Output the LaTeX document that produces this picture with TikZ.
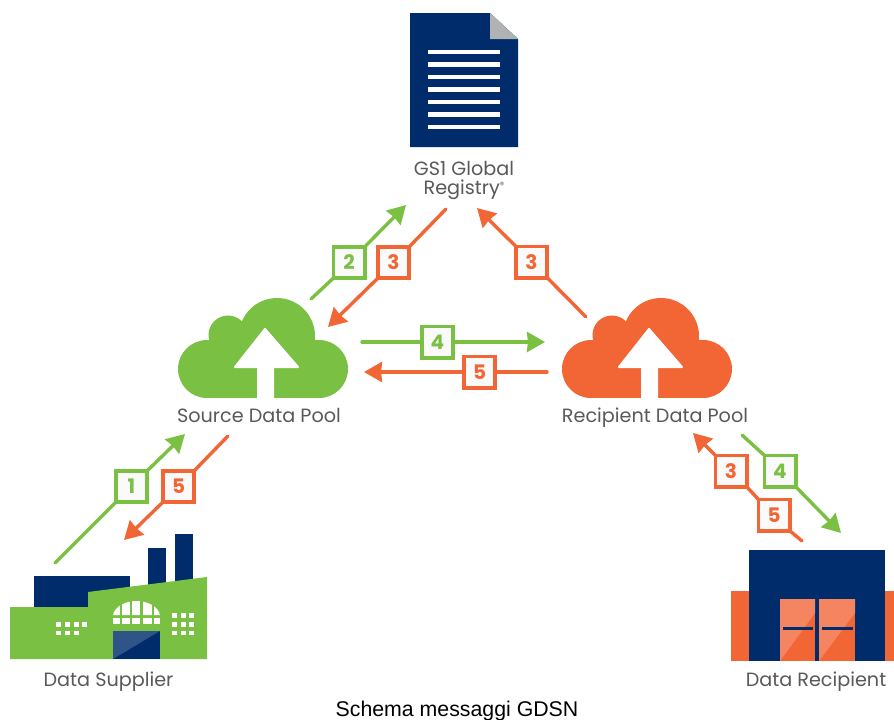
\documentclass[tikz,border=0pt]{standalone}
\usepackage{fontspec}
\usetikzlibrary{arrows.meta}
\setmainfont{Poppins}
\newfontfamily\capfont{Liberation Sans}
\definecolor{gsgreen}{HTML}{7AC143}
\definecolor{gsorange}{HTML}{F26534}
\definecolor{gsnavy}{HTML}{002C6C}
\definecolor{gslight}{HTML}{F58460}
\definecolor{gsdoor}{HTML}{2F5488}
\definecolor{gsgrey}{HTML}{B1B3B3}
\definecolor{gstext}{HTML}{58595B}
\tikzset{
  label text/.style={text=gstext,font=\fontsize{19.2}{19}\selectfont,inner sep=0pt,align=center},
  numbox/.style={draw=#1,text=#1,fill=black!2,line width=3.8pt,minimum size=31.2pt,inner sep=0pt,outer sep=0pt,font=\fontsize{20}{20}\selectfont\bfseries},
  link/.style={draw=#1,line width=3.4pt,line cap=round},
  arrowlink/.style={draw=#1,line width=3.4pt,line cap=round,-{Stealth[length=18pt,width=20pt,inset=1pt]}},
  cloudicon/.pic={
    \fill[pic actions] (29,0) circle[radius=29pt];
    \fill[pic actions] (141,0) circle[radius=29pt];
    \fill[pic actions] (29,-29) rectangle (141,29);
    \fill[pic actions] (50,-34) circle[radius=19.5pt];
    \fill[pic actions] (99,-33) circle[radius=38pt];
    \fill[pic actions] (45,-30) rectangle (130,0);
    \filldraw[white,line width=2pt,line join=round] (87,-40) -- (120,-2) -- (95,-2) -- (95,29) -- (80,29) -- (80,-2) -- (57,-2) -- cycle;
  }
}
\begin{document}
\begin{tikzpicture}[x=1pt,y=-1pt]
\useasboundingbox[fill=white] (0,0) rectangle (894,720);

% document
\fill[gsnavy] (410,13) -- (490,13) -- (518,39) -- (518,147) -- (410,147) -- cycle;
\fill[gsgrey] (490,13) -- (518,39) -- (490,39) -- cycle;
\foreach \ly in {52,64.5,77,89.5,102,114.5,127}
  \fill[white] (428,\ly-2.2) rectangle (500,\ly+2.2);

% clouds
\pic[fill=gsgreen] at (178,369) {cloudicon};
\pic[fill=gsorange] at (562,369) {cloudicon};

% factory
\fill[gsnavy] (34,576) rectangle (130,610);
\fill[gsnavy] (148,548) rectangle (166,590);
\fill[gsnavy] (175,534) rectangle (193,590);
\fill[gsgreen] (10,659) -- (10,607) -- (88,607) -- (88,592) -- (207,577) -- (207,659) -- cycle;
\fill[gsnavy] (113,631) rectangle (160,659);
\fill[gsdoor] (113,631) -- (160,631) -- (113,659) -- cycle;
\fill[white] (113,615) .. controls (115,606) and (126,601) .. (136.5,601) .. controls (147,601) and (158,606) .. (160,615) -- cycle;
\foreach \xa/\xb in {120/122,130/132,140/143,152/154}
  \fill[gsgreen] (\xa,600) rectangle (\xb,616);
\foreach \xa/\xb in {113/120,122/130,132/140,143/152,154/160}
  \fill[white] (\xa,617.5) rectangle (\xb,624);
\foreach \xa in {55.5,64.5,73.5,82}{
  \fill[white] (\xa,622) rectangle +(5,4.5);}
\foreach \xa in {55.5,64.5,73.5}{
  \fill[white] (\xa,630.5) rectangle +(5,4.5);}
\foreach \xa in {171.5,180.5,189}{
  \foreach \ya in {613,622,630.5}{
    \fill[white] (\xa,\ya) rectangle +(5,4.5);}}

% warehouse
\fill[gsorange] (731,591) rectangle (894,661);
\fill[gsnavy] (749,550) rectangle (885,661);
\fill[gsorange] (780,599) rectangle (815,661);
\fill[gsorange] (819,599) rectangle (855,661);
\fill[gslight] (780,599) -- (815,599) -- (815,613) -- (780,661) -- cycle;
\fill[gslight] (819,599) -- (855,599) -- (855,613) -- (819,661) -- cycle;
\fill[gsnavy] (783,627) rectangle (813,629.5);
\fill[gsnavy] (822,627) rectangle (853,629.5);

% labels
\node[label text] (registry) at (464,180) {GS1 Global\\Registry\raisebox{6pt}{\fontsize{9}{9}\selectfont ®}};
\node[label text,anchor=base] (source) at (259,422) {Source Data Pool};
\node[label text,anchor=base] (recipient) at (655,422) {Recipient Data Pool};
\node[label text,anchor=base] (supplier) at (108.5,686) {Data Supplier};
\node[label text,anchor=base] (datarec) at (816,686) {Data Recipient};
\node[inner sep=0pt,anchor=base] (caption) at (457,716) {\capfont\fontsize{21.3}{22}\selectfont Schema messaggi GDSN};

% number boxes
\node[numbox=gsgreen] (g1) at (131.5,486.5) {1};
\node[numbox=gsorange] (o5a) at (178.5,486.5) {5};
\node[numbox=gsgreen] (g2) at (349,262.5) {2};
\node[numbox=gsorange] (o3a) at (393.5,262.5) {3};
\node[numbox=gsorange] (o3b) at (531.5,262) {3};
\node[numbox=gsgreen] (g4a) at (437.5,342) {4};
\node[numbox=gsorange] (o5b) at (479.5,372) {5};
\node[numbox=gsorange] (o3c) at (731,471) {3};
\node[numbox=gsgreen] (g4b) at (780,471) {4};
\node[numbox=gsorange] (o5c) at (774,515) {5};

% free ends
\coordinate (s1) at (55,563);   \coordinate (t1) at (185,434);
\coordinate (s5a) at (228,436); \coordinate (t5a) at (124,540);
\coordinate (s2) at (311,299);  \coordinate (t2) at (406,205);
\coordinate (s3a) at (446,209); \coordinate (t3a) at (328,327);
\coordinate (s3b) at (586,317); \coordinate (t3b) at (477,208);
\coordinate (s4a) at (362,342); \coordinate (t4a) at (545,342);
\coordinate (s5b) at (547,372); \coordinate (t5b) at (364,372);
\coordinate (s3c) at (802,541); \coordinate (t3c) at (693,433);
\coordinate (s4b) at (742,435); \coordinate (t4b) at (841,533);

% connectors
\draw[link=gsgreen] (s1) -- (g1.south west);
\draw[arrowlink=gsgreen] (g1.north east) -- (t1);
\draw[link=gsorange] (s5a) -- (o5a.north east);
\draw[arrowlink=gsorange] (o5a.south west) -- (t5a);
\draw[link=gsgreen] (s2) -- (g2.south west);
\draw[arrowlink=gsgreen] (g2.north east) -- (t2);
\draw[link=gsorange] (s3a) -- (o3a.north east);
\draw[arrowlink=gsorange] (o3a.south west) -- (t3a);
\draw[link=gsorange] (s3b) -- (o3b.south east);
\draw[arrowlink=gsorange] (o3b.north west) -- (t3b);
\draw[link=gsgreen] (s4a) -- (g4a.west);
\draw[arrowlink=gsgreen] (g4a.east) -- (t4a);
\draw[link=gsorange] (s5b) -- (o5b.east);
\draw[arrowlink=gsorange] (o5b.west) -- (t5b);
\draw[link=gsorange] (s3c) -- (o5c.south east);
\draw[link=gsorange] (o5c.north west) -- (o3c.south east);
\draw[arrowlink=gsorange] (o3c.north west) -- (t3c);
\draw[link=gsgreen] (s4b) -- (g4b.north west);
\draw[arrowlink=gsgreen] (g4b.south east) -- (t4b);
\end{tikzpicture}
\end{document}
